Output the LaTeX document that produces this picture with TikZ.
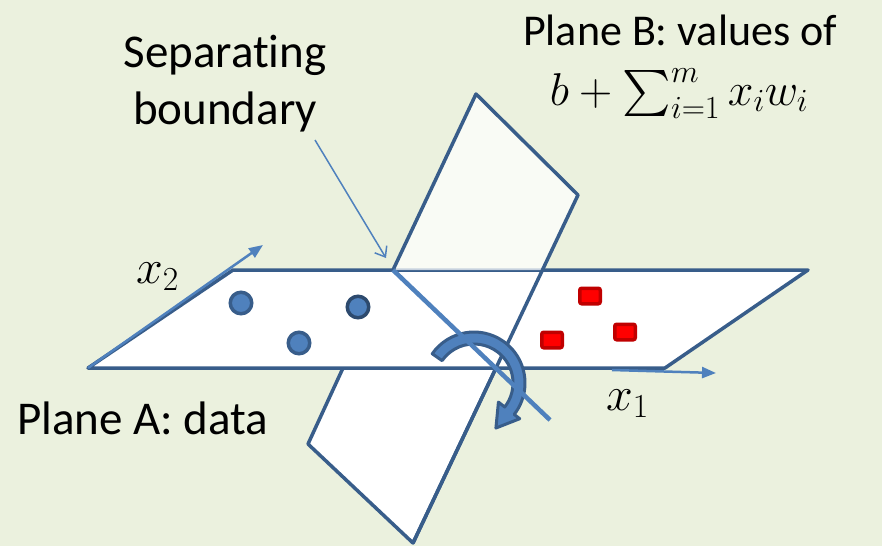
\documentclass[tikz,border=0pt]{standalone}
\usepackage{fix-cm}
\DeclareFontShape{OMX}{cmex}{m}{n}{<-> cmex10}{}
\usepackage[no-math]{fontspec}
\setmainfont[Ligatures=NoCommon]{Carlito}
\usetikzlibrary{arrows.meta}
\definecolor{bggreen}{RGB}{235,241,222}
\definecolor{edgeblue}{RGB}{56,93,138}
\definecolor{axisblue}{RGB}{79,129,189}
\definecolor{sqred}{RGB}{255,0,0}
\definecolor{sqring}{RGB}{192,0,0}
\tikzset{
  planeedge/.style={draw=edgeblue, line width=3.5pt, line join=round},
  axisarrow/.style={draw=axisblue, line width=2.5pt, -{Triangle[length=14pt,width=11pt]}},
  sepline/.style={draw=axisblue, line width=1.5pt, -{Straight Barb[length=9pt,width=14pt]}},
  datadot/.style={circle, fill=axisblue, draw=edgeblue, line width=3.5pt, minimum size=21.5pt, inner sep=0pt},
  datasq/.style={rectangle, rounded corners=2pt, fill=sqred, draw=sqring, line width=3.5pt, minimum width=20.5pt, minimum height=15.5pt, inner sep=0pt},
  labeltext/.style={font=\fontsize{47}{57}\selectfont, inner sep=0pt},
  mathtext/.style={font=\fontsize{48}{58}\selectfont, inner sep=0pt},
}
\begin{document}
\begin{tikzpicture}[x=1pt, y=-1pt]
  \fill[bggreen] (0,0) rectangle (882,546);
  \useasboundingbox (0,0) rectangle (882,546);
  % corners of the two planes
  \coordinate (A-sw) at (88,368);
  \coordinate (A-nw) at (233,270);
  \coordinate (A-ne) at (808,270);
  \coordinate (A-se) at (665,368);
  \coordinate (B-hinge) at (393,270);
  \coordinate (B-top) at (476,94);
  \coordinate (B-right) at (578,195);
  \coordinate (B-cut) at (542,270);
  \coordinate (B-low-l) at (343,368);
  \coordinate (B-left) at (308,444);
  \coordinate (B-bottom) at (413,543);
  \coordinate (B-low-r) at (496,368);
  \coordinate (x2-tip) at (263,245);
  \coordinate (x1-tail) at (612,370);
  \coordinate (x1-tip) at (716,373);
  \coordinate (sep-tail) at (315,140);
  \coordinate (sep-tip) at (386,258);
  \coordinate (bd-end) at (550,420);
  % plane B below plane A
  \filldraw[planeedge, fill=white] (B-low-l) -- (B-left) -- (B-bottom) -- (B-low-r);
  % plane A
  \filldraw[planeedge, fill=white] (A-sw) -- (A-nw) -- (A-ne) -- (A-se) -- cycle;
  % plane B above plane A
  \fill[white, fill opacity=0.72] (B-hinge) -- (B-top) -- (B-right) -- (B-cut) -- cycle;
  \draw[planeedge] (B-hinge) -- (B-top) -- (B-right) -- (B-bottom);
  % data points
  \node[datadot] (d1) at (241,303) {};
  \node[datadot, draw=edgeblue!80!black] (d2) at (358,307) {};
  \node[datadot] (d3) at (299,343) {};
  \node[datasq] (s1) at (590,296) {};
  \node[datasq] (s2) at (625,332) {};
  \node[datasq] (s3) at (552,340) {};
  % axes
  \draw[axisarrow] (A-sw) -- (x2-tip);
  \draw[axisarrow] (x1-tail) -- (x1-tip);
  % rotation
  \filldraw[fill=axisblue, draw=edgeblue, line width=3pt, line join=round]
    ({474+51*cos(215)},{383+51*sin(215)}) arc[start angle=215, end angle=398, radius=51]
    -- ({474+58*cos(398)},{383+58*sin(398)})
    -- ({474+45*cos(398)-22*sin(398)},{383+45*sin(398)+22*cos(398)})
    -- ({474+31*cos(398)},{383+31*sin(398)})
    -- ({474+39*cos(398)},{383+39*sin(398)}) arc[start angle=398, end angle=215, radius=39]
    -- cycle;
  % separating boundary
  \draw[draw=axisblue, line width=4.5pt] (B-hinge) -- (bd-end);
  \draw[sepline] (sep-tail) -- (sep-tip);
  % labels
  \node[labeltext, anchor=base west] (lblA) at (17,434) {Plane A: data};
  \node[labeltext, align=center] (lblsep) at (225,84) {Separating\\boundary};
  \node[labeltext, anchor=base, font=\fontsize{44}{54}\selectfont] (lblB) at (680,45) {Plane B: values of};
  \node[mathtext, anchor=base, font=\fontsize{46}{56}\selectfont] (lblsum) at (679,105) {$b+\sum_{i=1}^{m}x_iw_i$};
  \node[mathtext, anchor=base west] (lblx2) at (136,283) {$x_2$};
  \node[mathtext, anchor=base west] (lblx1) at (606,410) {$x_1$};
\end{tikzpicture}
\end{document}
